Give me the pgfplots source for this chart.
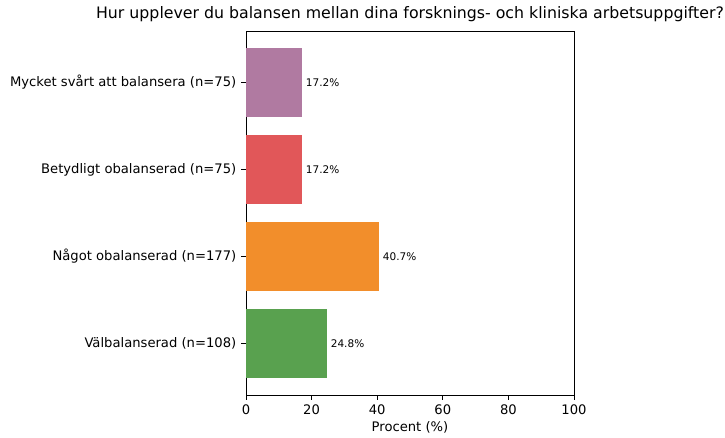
\documentclass[border=0pt]{standalone}
\usepackage{pgfplots}
\pgfplotsset{compat=1.18}
\usepackage{fontspec}
\setmainfont{DejaVu Sans}
\definecolor{cpurple}{HTML}{B07AA1}
\definecolor{cred}{HTML}{E15759}
\definecolor{corange}{HTML}{F28E2B}
\definecolor{cgreen}{HTML}{59A14F}
\begin{document}
\begin{tikzpicture}
\useasboundingbox (-177.12bp,-30.96bp) rectangle (344.88bp,284.4bp);
\begin{axis}[
  at={(0,0)}, anchor=south west,
  scale only axis,
  width=236.16bp, height=262.08bp,
  xmin=0, xmax=100, ymin=-0.59, ymax=3.59,
  xbar, bar width=0.8, bar shift=0pt,
  xtick={0,20,40,60,80,100},
  ytick={0,1,2,3},
  yticklabels={Välbalanserad (n=108),Något obalanserad (n=177),Betydligt obalanserad (n=75),Mycket svårt att balansera (n=75)},
  tick align=outside, major tick length=3.5bp,
  xtick pos=bottom, ytick pos=left,
  tick style={black, line width=0.6bp},
  axis line style={line width=0.6bp},
  /pgf/number format/assume math mode=true,
  ticklabel style={font=\fontsize{9.5}{11}\selectfont},
  xlabel={Procent (\%)},
  xlabel style={font=\fontsize{9.5}{11}\selectfont, yshift=2bp},
  title={Hur upplever du balansen mellan dina forsknings- och kliniska arbetsuppgifter?},
  title style={font=\fontsize{11.4}{13}\selectfont, yshift=-3bp},
  nodes near coords={\pgfmathprintnumber[fixed,precision=1,fixed zerofill]{\pgfplotspointmeta}\%},
  point meta=x,
  nodes near coords style={font=\fontsize{7.6}{9}\selectfont, anchor=west, xshift=-1bp},
  every axis plot/.append style={draw=none},
]
\addplot[fill=cgreen] coordinates {(24.8,0)};
\addplot[fill=corange] coordinates {(40.7,1)};
\addplot[fill=cred] coordinates {(17.2,2)};
\addplot[fill=cpurple] coordinates {(17.2,3)};
\end{axis}
\end{tikzpicture}
\end{document}
